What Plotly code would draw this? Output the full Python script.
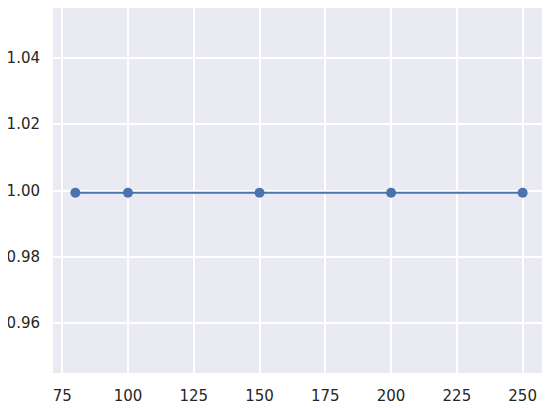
import plotly.graph_objects as go

x_vals = [80, 100, 150, 200, 250]
y_vals = [0.9993, 0.9993, 0.9993, 0.9993, 0.9993]
x_ticks = [75, 100, 125, 150, 175, 200, 225, 250]
y_ticks = [0.96, 0.98, 1.00, 1.02, 1.04]

fig = go.Figure(go.Scatter(
    x=x_vals, y=y_vals, mode="lines+markers",
    line=dict(color="#4C72B0", width=2),
    marker=dict(color="#4C72B0", size=10),
))

fig.update_layout(
    width=542, height=400,
    margin=dict(l=45, r=5, t=0, b=35),
    paper_bgcolor="white", plot_bgcolor="#EAEAF2",
    font=dict(family="DejaVu Sans", size=15, color="#262626"),
    showlegend=False,
)
fig.update_xaxes(range=[71.5, 258.5], tickvals=x_ticks, showgrid=True,
                 gridcolor="white", gridwidth=1.5, zeroline=False, automargin=False,
                 ticks="outside", ticklen=9, tickcolor="white", showline=False)
fig.update_yaxes(range=[0.945, 1.055], tickvals=y_ticks, tickformat=".2f",
                 showgrid=True, gridcolor="white", gridwidth=1.5, zeroline=False,
                 automargin=False,
                 ticks="outside", ticklen=9, tickcolor="white", showline=False)

fig.write_html("out.html")
